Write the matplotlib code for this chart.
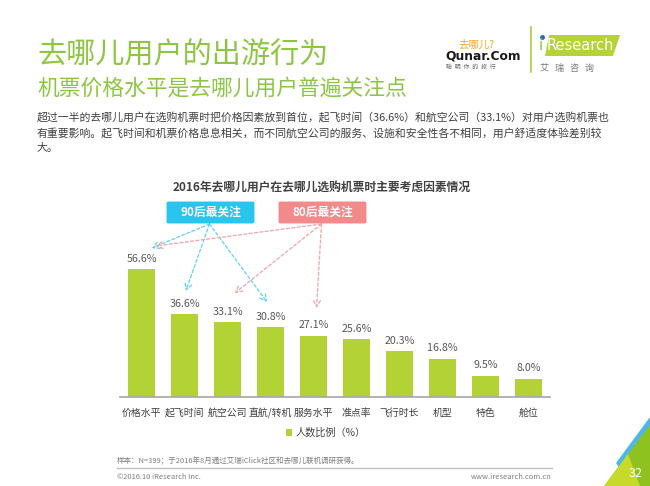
import matplotlib
matplotlib.use("Agg")
import matplotlib.pyplot as plt
from matplotlib.patches import FancyBboxPatch, Polygon

plt.rcParams['font.family'] = ['Noto Sans CJK SC', 'DejaVu Sans']

# data
categories = ["价格水平", "起飞时间", "航空公司", "直航/转机", "服务水平",
              "准点率", "飞行时长", "机型", "特色", "舱位"]
shares = [56.6, 36.6, 33.1, 30.8, 27.1, 25.6, 20.3, 16.8, 9.5, 8.0]
series_name = "人数比例（%）"
focus_90 = ["价格水平", "起飞时间", "直航/转机"]
focus_80 = ["价格水平", "航空公司", "服务水平"]

W, H = 650, 486
fig = plt.figure(figsize=(W / 100, H / 100), dpi=100)


def px(x, y):
    # pixel position (top-left origin) -> figure fraction
    return (x / W, 1 - y / H)


green = '#8DC641'
bar_green = '#B2D235'
dark = '#404040'

# headline block
fig.text(*px(37, 55), "去哪儿用户的出游行为", fontsize=21, color=green, va='center')
fig.text(*px(37, 89), "机票价格水平是去哪儿用户普遍关注点", fontsize=15.7, color=green, va='center')
para = ["超过一半的去哪儿用户在选购机票时把价格因素放到首位，起飞时间（36.6%）和航空公司（33.1%）对用户选购机票也",
        "有重要影响。起飞时间和机票价格息息相关，而不同航空公司的服务、设施和安全性各不相同，用户舒适度体验差别较",
        "大。"]
for k, line in enumerate(para):
    fig.text(*px(37, 118 + 15 * k), line, fontsize=7.8, color=dark, va='center')

# logos
fig.text(*px(458, 45), "去哪儿?", fontsize=7.5, color='#F5A623', va='center')
fig.text(*px(445, 56), "Qunar.Com", fontsize=8.8, weight='bold', color='#1A1A1A', va='center',
         family='DejaVu Sans')
fig.text(*px(446, 67), "聪  明  你  的  旅  行", fontsize=4.3, color='#666666', va='center')
fig.add_artist(plt.Line2D([531 / W, 531 / W], [1 - 27 / H, 1 - 72 / H], color='#A8D03A', lw=1.2))
fig.add_artist(Polygon([px(549, 35), px(620, 35), px(613, 56), px(545, 56)],
                       closed=True, fc='#B5D334', ec='none'))
fig.text(*px(539, 46), "i", fontsize=11, color='#8DC641', va='center', family='DejaVu Sans')
fig.add_artist(plt.Line2D([541.5 / W], [1 - 37 / H], marker='o', ms=2.5, color='#1F6FB5', lw=0))
fig.text(*px(547, 46), "Research", fontsize=10.5, color='white', va='center', family='DejaVu Sans')
fig.text(*px(540, 68), "艾   瑞   咨   询", fontsize=6.5, color='#777777', va='center')

# chart
ax = fig.add_axes([120 / W, 89 / H, 430 / W, 152 / H])
x = list(range(len(categories)))
bars = ax.bar(x, shares, width=0.63, color=bar_green, label=series_name)
ax.bar_label(bars, labels=[f"{v:.1f}%" for v in shares], padding=4, fontsize=7.7, color='#595959')
ax.set_xlim(-0.5, len(categories) - 0.5)
ax.set_ylim(0, 152 / 2.26)
ax.set_xticks(x)
ax.set_xticklabels(categories, fontsize=7.1, color=dark, va='center')
ax.tick_params(axis='x', length=0, pad=11.5)
ax.set_yticks([])
for s in ['left', 'right', 'top']:
    ax.spines[s].set_visible(False)
ax.spines['bottom'].set_color('#A6A6A6')
ax.spines['bottom'].set_linewidth(1.2)

ax.legend(loc='center', bbox_to_anchor=px(326, 433), bbox_transform=fig.transFigure,
          frameon=False, fontsize=7.3, handlelength=0.6, handleheight=0.6, handletextpad=0.4,
          labelcolor=dark)

fig.text(*px(322, 187), "2016年去哪儿用户在去哪儿选购机票时主要考虑因素情况", fontsize=8.5,
         weight='bold', color=dark, ha='center', va='center')

# callout boxes
boxes = [("90后最关注", 210.5, '#29C5EE', focus_90, '#5CD3F2'),
         ("80后最关注", 322.5, '#F28A8C', focus_80, '#F5A3A5')]
tip = {("90后最关注", "价格水平"): (0.24, 9.3), ("80后最关注", "价格水平"): (0.32, 10.2),
       ("90后最关注", "起飞时间"): (0.03, 10.3), ("90后最关注", "直航/转机"): (-0.08, 11.2),
       ("80后最关注", "航空公司"): (0.17, 12.9), ("80后最关注", "服务水平"): (0.07, 12.3)}
for label, cx, fc, targets, lc in boxes:
    x0, y0 = px(cx - 42, 222)
    fig.add_artist(FancyBboxPatch((x0, y0), 84 / W, 19 / H, boxstyle='round,pad=0.003',
                                  fc=fc, ec='none', transform=fig.transFigure))
    fig.text(*px(cx, 212.5), label, fontsize=8.5, weight='bold', color='white',
             ha='center', va='center')
    for name in targets:
        i = categories.index(name)
        dx, dy = tip[(label, name)]
        ax.annotate('', xy=(i + dx, shares[i] + dy), xycoords='data',
                    xytext=px(cx - 1, 224), textcoords='figure fraction',
                    annotation_clip=False,
                    arrowprops=dict(arrowstyle='->,head_length=0.45,head_width=0.25',
                                    color=lc, lw=0.9, linestyle=(0, (2.5, 1.8)),
                                    shrinkA=0, shrinkB=0))

# footer
fig.text(*px(117, 461), "样本：N=399；于2016年8月通过艾瑞iClick社区和去哪儿联机调研获得。",
         fontsize=5.4, color='#7F7F7F', va='center')
fig.add_artist(plt.Line2D([117 / W, 552 / W], [1 - 468 / H] * 2, color='#BFBFBF', lw=1))
fig.text(*px(117, 477), "©2016.10 iResearch Inc.", fontsize=5.4, color='#7F7F7F', va='center')
fig.text(*px(552, 477), "www.iresearch.com.cn", fontsize=5.4, color='#7F7F7F', va='center', ha='right')

# corner decoration
fig.add_artist(Polygon([px(616, 463), px(650, 417), px(650, 446), px(626, 478)],
                       closed=True, fc='#4DB8E8', ec='none'))
fig.add_artist(Polygon([px(604, 486), px(650, 425), px(650, 486)],
                       closed=True, fc='#8DC21F', ec='none'))
fig.add_artist(Polygon([px(604, 486), px(628, 454), px(640, 486)],
                       closed=True, fc='#C5DA2A', ec='none'))
fig.text(*px(636, 473), "32", fontsize=9, color='white', ha='center', va='center')

fig.savefig("out.png", dpi=100)
